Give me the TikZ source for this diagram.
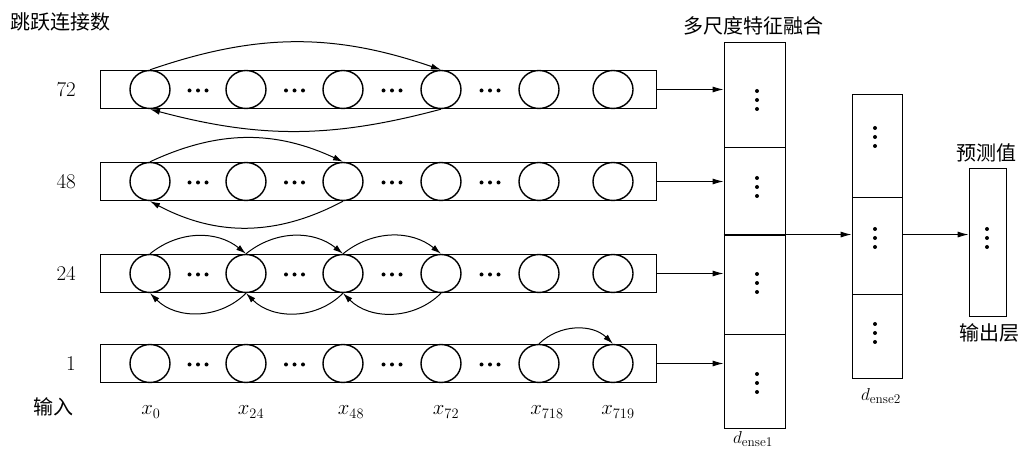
\documentclass[tikz,border=0pt]{standalone}
\usepackage{fontspec}
\newfontfamily\cjk{Noto Sans CJK SC}
\usetikzlibrary{arrows.meta,shapes.geometric}
\begin{document}
\begin{tikzpicture}[x=1pt,y=1pt,
  rowbox/.style={draw,line width=0.9pt,minimum width=556pt,minimum height=38pt,inner sep=0pt},
  unit/.style={draw,line width=1.4pt,ellipse,minimum width=40pt,minimum height=38pt,inner sep=0pt},
  cell/.style={draw,line width=0.9pt,rectangle,inner sep=0pt},
  link/.style={line width=1pt,-{Latex[length=10pt,width=6pt]}},
  feed/.style={line width=0.9pt,-{Latex[length=11pt,width=6pt]}},
  cjktext/.style={font=\cjk\fontsize{20}{24}\selectfont,inner sep=0pt},
  numtext/.style={font=\fontsize{21}{24}\selectfont,inner sep=0pt},
  vartext/.style={font=\fontsize{20}{22}\selectfont,inner sep=0pt}]
  \useasboundingbox (0,0) rectangle (1020,455);
  % skip-connection rows: label, box, units, dots
  \foreach \r/\y in {72/365.5,48/273.5,24/181.5,1/91.5} {
    \node[numtext,anchor=east] (lab\r) at (76,\y) {\r};
    \node[rowbox] (row\r) at (378,\y) {};
    \foreach \i/\x in {1/150,2/246,3/343,4/441,5/539,6/613}
      \node[unit] (c\r-\i) at (\x,\y) {};
    \foreach \x in {198,294.5,392,490}
      \foreach \k in {-8.5,0,8.5}
        \fill (\x+\k,\y-1) circle (2);
  }
  \node[cjktext,anchor=west] (skiplab) at (10,433) {跳跃连接数};
  \node[cjktext] (inlab) at (53,48) {输入};
  % inputs
  \foreach \n/\x/\s in {x0/151/0,x24/251/24,x48/351/48,x72/446/72,x718/547/718,x719/618/719}
    \node[vartext] (\n) at (\x,43) {$x_{\s}$};
  % jumps of 72
  \draw[link] (c72-1.north) to[out=19,in=161] (c72-4.north);
  \draw[link] (c72-4.south) to[out=195,in=-15] (c72-1.south);
  % jumps of 48
  \draw[link] (c48-1.north) to[out=25,in=155] (c48-3.north);
  \draw[link] (c48-3.south) to[out=208,in=-28] (c48-1.south);
  % jumps of 24
  \foreach \a/\b in {1/2,2/3,3/4} {
    \draw[link] (c24-\a.north) to[out=39,in=141] (c24-\b.north);
    \draw[link] (c24-\b.south) to[out=225,in=-45] (c24-\a.south);
  }
  % jump of 1
  \draw[link] (c1-5.north) to[out=44,in=136] (c1-6.north);
  % dense 1: multi-scale fusion
  \node[cell,minimum width=61pt,minimum height=105pt] (d1a) at (754.5,360.5) {};
  \node[cell,minimum width=61pt,minimum height=88pt] (d1b) at (754.5,264) {};
  \node[cell,minimum width=61pt,minimum height=99pt] (d1c) at (754.5,170.5) {};
  \node[cell,minimum width=61pt,minimum height=94pt] (d1d) at (754.5,74) {};
  % dense 2
  \node[cell,minimum width=50pt,minimum height=103pt] (d2a) at (877,309.5) {};
  \node[cell,minimum width=50pt,minimum height=97pt] (d2b) at (877,209.5) {};
  \node[cell,minimum width=50pt,minimum height=84pt] (d2c) at (877,119) {};
  % output
  \node[cell,minimum width=37pt,minimum height=148pt] (outbox) at (987.5,213) {};
  % vertical dots
  \foreach \x/\y in {757/355,757/268,757/172,757/72,875/318,875/217,875/122,987/217}
    \foreach \k in {-9,0,9}
      \fill (\x,\y+\k) circle (2);
  % connections
  \foreach \r/\c in {72/d1a,48/d1b,24/d1c,1/d1d}
    \draw[feed] (row\r.east) -- (row\r.east -| \c.west);
  \coordinate (fuse) at (d1c.north west);
  \draw[feed] (fuse) -- (fuse -| d2b.west);
  \draw[feed] (fuse -| d2b.east) -- (fuse -| outbox.west);
  % labels
  \node[cjktext] (fuselab) at (753,429) {多尺度特征融合};
  \node[cjktext] (predlab) at (986,302) {预测值};
  \node[cjktext] (outlab) at (989,122) {输出层};
  \node[font=\fontsize{19}{21}\selectfont,inner sep=0pt] (dense1lab) at (753,16) {$d_{\mathrm{ense1}}$};
  \node[font=\fontsize{19}{21}\selectfont,inner sep=0pt] (dense2lab) at (881,59) {$d_{\mathrm{ense2}}$};
\end{tikzpicture}
\end{document}
